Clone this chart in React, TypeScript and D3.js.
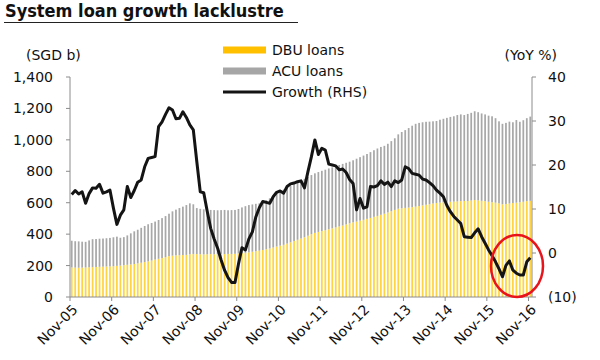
import React, { useRef, useEffect } from 'react';
import * as d3 from 'd3';

// monthly, Nov-05 .. Nov-16
const months: Date[] = d3.timeMonth.range(new Date(2005, 10, 1), new Date(2016, 11, 1));

const dbuLoans: number[] = [
    188, 187, 186, 187, 188, 189, 190, 191, 192, 193, 194, 195,
    196, 198, 200, 203, 205, 207, 210, 214, 218, 222, 227, 232,
    238, 243, 248, 254, 260, 263, 265, 266, 267, 268, 272, 274,
    273, 272, 271, 272, 273, 272, 273, 274, 273, 274, 274, 275,
    277, 279, 281, 284, 288, 292, 295, 299, 304, 309, 315, 321,
    327, 332, 340, 348, 356, 364, 372, 380, 390, 400, 408, 414,
    420, 425, 431, 437, 443, 449, 455, 462, 469, 475, 480, 486,
    491, 497, 503, 510, 516, 523, 530, 538, 546, 554, 562, 565,
    567, 569, 572, 575, 579, 583, 587, 591, 595, 598, 601, 603,
    605, 606, 607, 608, 610, 611, 611, 614, 617, 615, 612, 610,
    606, 603, 600, 596, 590, 592, 595, 598, 600, 603, 606, 610,
    612,
];

const acuLoans: number[] = [
    170, 168, 168, 165, 163, 171, 178, 178, 179, 179, 180, 181,
    184, 186, 177, 178, 187, 198, 208, 214, 222, 230, 236, 239,
    242, 247, 254, 261, 270, 282, 291, 300, 308, 317, 324, 316,
    293, 289, 287, 284, 281, 281, 279, 279, 281, 278, 279, 279,
    283, 291, 297, 301, 301, 301, 301, 305, 312, 319, 330, 339,
    345, 351, 354, 358, 362, 366, 370, 372, 374, 376, 379, 381,
    383, 385, 387, 388, 390, 391, 392, 392, 392, 395, 400, 404,
    409, 413, 419, 424, 429, 432, 432, 437, 446, 456, 473, 485,
    495, 506, 518, 527, 529, 529, 528, 525, 523, 522, 527, 531,
    535, 540, 543, 550, 552, 547, 554, 558, 565, 561, 556, 552,
    548, 547, 538, 522, 512, 516, 521, 514, 526, 512, 519, 528,
    536,
];

// YoY %, right axis
const growth: number[] = [
    13.3, 14.2, 13.4, 13.9, 11.3, 13.5, 14.8, 14.7, 15.6, 13.6, 13.9, 14.3,
    10.2, 6.5, 8.6, 9.8, 15.1, 12.6, 14.2, 16.1, 16.6, 19.6, 21.5, 21.7,
    21.9, 28.7, 29.8, 31.5, 33.0, 32.5, 30.5, 30.6, 32.1, 30.8, 29.1, 28.0,
    20.8, 13.9, 13.7, 9.5, 5.6, 3.2, 1.1, -1.6, -3.9, -5.6, -6.7, -6.7,
    -2.5, 1.2, 0.7, 3.2, 4.8, 8.2, 10.3, 11.7, 11.5, 11.3, 12.8, 13.8,
    14.1, 13.6, 15.1, 15.7, 15.9, 16.2, 16.4, 14.8, 18.5, 21.9, 25.7, 22.4,
    23.8, 23.4, 20.2, 20.0, 19.8, 18.9, 19.1, 18.3, 16.7, 15.8, 9.8, 12.4,
    10.2, 10.5, 15.1, 15.0, 15.3, 16.4, 15.6, 16.1, 15.1, 16.4, 16.0, 16.6,
    19.6, 19.2, 18.1, 17.9, 17.7, 16.8, 16.6, 16.0, 15.3, 14.3, 13.6, 12.8,
    10.8, 9.4, 8.3, 7.5, 6.7, 3.7, 3.6, 3.5, 4.6, 5.5, 3.7, 2.2,
    0.7, -0.6, -2.0, -3.6, -5.4, -2.8, -1.8, -3.9, -4.6, -5.0, -5.0, -2.0,
    -1.1,
];

const leftTicks: number[] = [0, 200, 400, 600, 800, 1000, 1200, 1400];
const rightTicks: number[] = [-10, 0, 10, 20, 30, 40];
const legendItems: string[] = ['DBU loans', 'ACU loans', 'Growth (RHS)'];

const FONT = '"DejaVu Sans", Verdana, sans-serif';
const TITLE_FONT = '"DejaVu Sans Condensed", "DejaVu Sans", sans-serif';

const App: React.FC = () => {
    const ref = useRef<SVGSVGElement>(null);

    useEffect(() => {
        if (!ref.current) return;
        const svg = d3.select(ref.current);
        svg.selectAll('*').remove();

        const left = 70, right = 532, top = 77, bottom = 297;
        const fmtMonth = d3.timeFormat('%b-%y');

        const x = d3.scaleBand<string>()
            .domain(months.map(m => fmtMonth(m)))
            .range([left, right])
            .paddingInner(0.5)
            .paddingOuter(0.25);
        const yL = d3.scaleLinear().domain([0, 1400]).range([bottom, top]);
        const yR = d3.scaleLinear().domain([-10, 40]).range([bottom, top]);

        // title
        svg.append('text')
            .attr('x', 5).attr('y', 17)
            .attr('font-family', TITLE_FONT).attr('font-size', 18).attr('font-weight', 'bold')
            .attr('fill', '#111')
            .text('System loan growth lacklustre');
        svg.append('line')
            .attr('x1', 4).attr('x2', 298).attr('y1', 22.5).attr('y2', 22.5)
            .attr('stroke', '#222').attr('stroke-width', 1.2);

        const rows = months.map((m, i) => ({ key: fmtMonth(m), dbu: dbuLoans[i], acu: acuLoans[i], g: growth[i] }));

        // stacked bars
        const bars = svg.append('g');
        bars.selectAll('.dbu').data(rows).enter().append('rect')
            .attr('x', d => x(d.key)!)
            .attr('width', x.bandwidth())
            .attr('y', d => yL(d.dbu))
            .attr('height', d => bottom - yL(d.dbu))
            .attr('fill', '#FFD43F');
        bars.selectAll('.acu').data(rows).enter().append('rect')
            .attr('x', d => x(d.key)!)
            .attr('width', x.bandwidth())
            .attr('y', d => yL(d.dbu + d.acu))
            .attr('height', d => yL(d.dbu) - yL(d.dbu + d.acu))
            .attr('fill', '#A8A8A8');

        // axes
        const axisColor = '#8c8c8c';
        const ax = svg.append('g').attr('font-family', FONT).attr('font-size', 14).attr('fill', '#111');

        ax.append('line').attr('x1', left).attr('x2', left).attr('y1', top).attr('y2', bottom).attr('stroke', axisColor);
        leftTicks.forEach(t => {
            ax.append('line').attr('x1', left - 4).attr('x2', left).attr('y1', yL(t)).attr('y2', yL(t)).attr('stroke', axisColor);
            ax.append('text').attr('x', 53).attr('y', yL(t) + 5).attr('text-anchor', 'end').text(d3.format(',')(t));
        });

        ax.append('line').attr('x1', right).attr('x2', right).attr('y1', top).attr('y2', bottom).attr('stroke', axisColor);
        rightTicks.forEach(t => {
            ax.append('line').attr('x1', right).attr('x2', right + 4).attr('y1', yR(t)).attr('y2', yR(t)).attr('stroke', axisColor);
            ax.append('text').attr('x', 548).attr('y', yR(t) + 5).text(t < 0 ? `(${Math.abs(t)})` : `${t}`);
        });

        ax.append('line').attr('x1', left).attr('x2', right).attr('y1', bottom).attr('y2', bottom).attr('stroke', axisColor);
        months.forEach(m => {
            if (m.getMonth() !== 10) return;
            const tx = x(fmtMonth(m))! - x.step() * x.paddingInner() / 2;
            ax.append('line').attr('x1', tx).attr('x2', tx).attr('y1', bottom).attr('y2', bottom + 4).attr('stroke', axisColor);
            ax.append('text')
                .attr('transform', `translate(${tx + 5},${bottom + 10}) rotate(-45)`)
                .attr('text-anchor', 'end')
                .attr('dy', '0.35em')
                .text(fmtMonth(m));
        });

        ax.append('text').attr('x', 26).attr('y', 60).text('(SGD b)');
        ax.append('text').attr('x', 557).attr('y', 60).attr('text-anchor', 'end').text('(YoY %)');

        // growth line
        const line = d3.line<typeof rows[number]>()
            .x(d => x(d.key)! + x.bandwidth() / 2)
            .y(d => yR(d.g))
            .curve(d3.curveLinear);
        svg.append('path').datum(rows)
            .attr('d', line)
            .attr('fill', 'none')
            .attr('stroke', '#141414')
            .attr('stroke-width', 3)
            .attr('stroke-linejoin', 'round');

        // legend
        const lg = svg.append('g').attr('font-family', FONT).attr('font-size', 14).attr('fill', '#111');
        legendItems.forEach((name, i) => {
            const cy = 50 + i * 21;
            if (i < 2) {
                lg.append('rect').attr('x', 223).attr('y', cy - 3.5).attr('width', 43).attr('height', 7)
                    .attr('fill', i === 0 ? '#FFC000' : '#A6A6A6');
            } else {
                lg.append('line').attr('x1', 223).attr('x2', 266).attr('y1', cy).attr('y2', cy)
                    .attr('stroke', '#141414').attr('stroke-width', 3);
            }
            lg.append('text').attr('x', 272).attr('y', cy + 5).text(name);
        });

        // highlight around the latest readings
        svg.append('ellipse')
            .attr('cx', 517).attr('cy', 266).attr('rx', 26).attr('ry', 31)
            .attr('fill', 'none').attr('stroke', '#E8141B').attr('stroke-width', 2.5);
    }, []);

    return <svg ref={ref} width={600} height={360} style={{ position: 'absolute', left: 0, top: 0, background: '#fff' }}></svg>;
};

export default App;
